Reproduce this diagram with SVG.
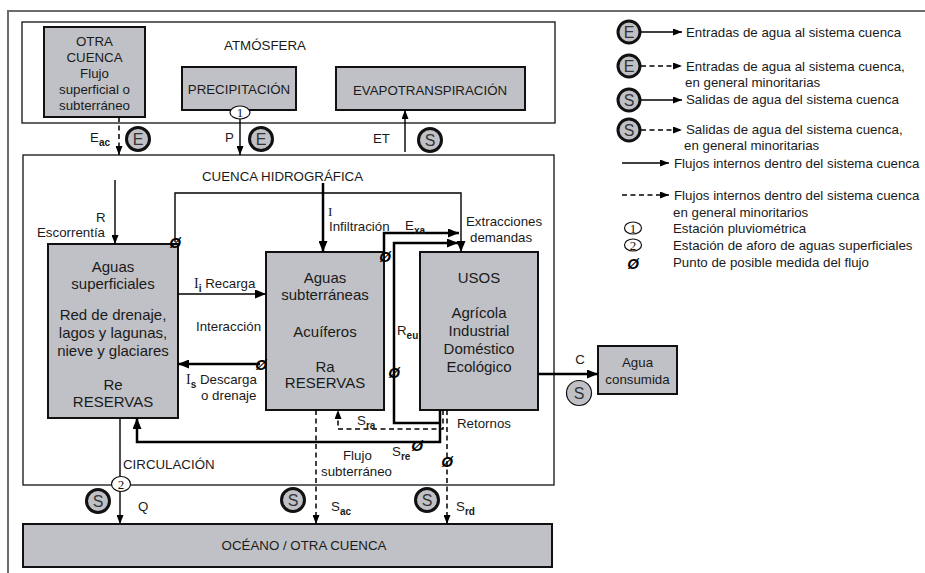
<svg xmlns="http://www.w3.org/2000/svg" width="925" height="573" viewBox="0 0 925 573">
<defs>
  <marker id="ah" markerUnits="userSpaceOnUse" viewBox="0 0 11 9" markerWidth="11" markerHeight="9" refX="11" refY="4.5" orient="auto">
    <path d="M0,0 L11,4.5 L0,9 z" fill="#000"/>
  </marker>
  <marker id="ahs" markerUnits="userSpaceOnUse" viewBox="0 0 9 7" markerWidth="9" markerHeight="7" refX="9" refY="3.5" orient="auto">
    <path d="M0,0 L9,3.5 L0,7 z" fill="#000"/>
  </marker>
</defs>
<style>
  text { font-family: "Liberation Sans", Arial, sans-serif; fill: #1a1a1a; font-size: 13.3px; }
  .box { fill: #c0c1c6; stroke: #111; stroke-width: 2; }
  .frame { fill: none; stroke: #111; stroke-width: 1.3; }
  .body { font-size: 15px; text-anchor: middle; }
  .mid { text-anchor: middle; }
  .sub { font-size: 10px; font-weight: bold; }
  .serif { font-family: "Liberation Serif", "Times New Roman", serif; }
  .ln { fill: none; stroke: #000; stroke-width: 1.4; }
  .thk { stroke-width: 2.5; }
  .dash { stroke-dasharray: 5 3.5; stroke-width: 1.5; }
  .tok circle { fill: #c0c1c6; stroke: #111; stroke-width: 3; }
  .tok text { font-size: 16px; text-anchor: middle; fill: #333; }
  .thin circle { stroke-width: 1.2; }
  .phi { font-size: 15px; font-weight: bold; font-style: italic; text-anchor: middle; fill: #000; }
  .stn ellipse { fill: #fff; stroke: #111; stroke-width: 1.2; }
  .stn text { font-family: "Liberation Serif", serif; font-size: 13px; text-anchor: middle; fill: #111; }
</style>

<!-- outer frame -->
<path d="M8,573 V11 H925" fill="none" stroke="#6b6b6b" stroke-width="2"/>

<!-- atmosphere container -->
<g id="atmosfera">
  <rect class="frame" x="22" y="22" width="533" height="101"/>
  <text class="mid" x="265" y="50">ATMÓSFERA</text>
</g>

<g id="otra-cuenca">
  <rect class="box" x="44" y="27" width="101" height="90"/>
  <text class="mid" x="94.5" y="46">OTRA</text>
  <text class="mid" x="94.5" y="62">CUENCA</text>
  <text class="mid" x="94.5" y="78">Flujo</text>
  <text class="mid" x="94.5" y="94">superficial o</text>
  <text class="mid" x="94.5" y="110">subterráneo</text>
</g>

<g id="precipitacion">
  <rect class="box" x="182" y="67" width="114" height="43"/>
  <text class="mid" x="239" y="94">PRECIPITACIÓN</text>
</g>

<g id="evapotranspiracion">
  <rect class="box" x="336" y="67" width="189" height="43"/>
  <text class="mid" x="430" y="95">EVAPOTRANSPIRACIÓN</text>
</g>

<!-- basin container -->
<g id="cuenca">
  <rect class="frame" x="23" y="155" width="531" height="330"/>
  <text x="202" y="181">CUENCA HIDROGRÁFICA</text>
</g>

<g id="aguas-superficiales">
  <rect class="box" x="48" y="244" width="130" height="174"/>
  <text class="body" x="113" y="272">Aguas</text>
  <text class="body" x="113" y="289">superficiales</text>
  <text class="body" x="113" y="320">Red de drenaje,</text>
  <text class="body" x="113" y="338">lagos y lagunas,</text>
  <text class="body" x="113" y="356">nieve y glaciares</text>
  <text class="body" x="113" y="390">Re</text>
  <text class="body" x="113" y="407">RESERVAS</text>
</g>

<g id="aguas-subterraneas">
  <rect class="box" x="266" y="252" width="118" height="158"/>
  <text class="body" x="325" y="283">Aguas</text>
  <text class="body" x="325" y="300">subterráneas</text>
  <text class="body" x="325" y="337">Acuíferos</text>
  <text class="body" x="325" y="372">Ra</text>
  <text class="body" x="325" y="388">RESERVAS</text>
</g>

<g id="usos">
  <rect class="box" x="420" y="252" width="118" height="158"/>
  <text class="body" x="479" y="283">USOS</text>
  <text class="body" x="479" y="318">Agrícola</text>
  <text class="body" x="479" y="336">Industrial</text>
  <text class="body" x="479" y="354">Doméstico</text>
  <text class="body" x="479" y="372">Ecológico</text>
</g>

<g id="agua-consumida">
  <rect class="box" x="598" y="346" width="79" height="48"/>
  <text class="mid" x="637.5" y="367">Agua</text>
  <text class="mid" x="637.5" y="384">consumida</text>
</g>

<g id="oceano">
  <rect class="box" x="23" y="524" width="529" height="43"/>
  <text class="mid" x="304" y="550">OCÉANO / OTRA CUENCA</text>
</g>

<!-- flows -->
<g id="connectors">
  <path class="ln dash" d="M119,117 V155" marker-end="url(#ahs)"/>
  <path class="ln" stroke-width="2" d="M240,118 V155" marker-end="url(#ahs)"/>
  <path class="ln" stroke-width="2" d="M405,152 V110" marker-end="url(#ahs)"/>
  <path class="ln" d="M115,180 V244" marker-end="url(#ahs)"/>
  <path class="ln" d="M175,242 V193 H461 V252" marker-end="url(#ah)"/>
  <path class="ln thk" d="M384,252 V233 H459" marker-end="url(#ah)"/>
  <path class="ln thk" d="M440,423 H394 V243 H458" marker-end="url(#ah)"/>
  <path class="ln thk" d="M440,410 V442 H137 V418" marker-end="url(#ah)"/>
  <path class="ln" stroke-width="1.6" d="M178,294 H266" marker-end="url(#ah)"/>
  <path class="ln thk" d="M260,364 H178" marker-end="url(#ah)"/>
  <path class="ln thk" d="M323,183 V252" marker-end="url(#ah)"/>
  <path class="ln thk" d="M538,374 H598" marker-end="url(#ah)"/>
  <path class="ln" d="M120,418 V524" marker-end="url(#ahs)"/>
  <path class="ln dash" d="M316,410 V524" marker-end="url(#ahs)"/>
  <path class="ln dash" d="M443,410 V429 H338 V410" marker-end="url(#ahs)"/>
  <path class="ln dash" d="M447,410 V524" marker-end="url(#ahs)"/>
</g>

<!-- gauging stations -->
<g id="estacion-1" class="stn">
  <ellipse cx="240" cy="112.5" rx="10" ry="6.5"/>
  <text x="240" y="117">1</text>
</g>
<g id="estacion-2" class="stn">
  <ellipse cx="121" cy="484" rx="9.5" ry="7.5"/>
  <text x="121" y="488.5">2</text>
</g>

<!-- inflow / outflow tokens -->
<g id="tokens">
  <g class="tok" transform="translate(138,139)"><circle r="11.5"/><text y="6">E</text></g>
  <g class="tok" transform="translate(261,139)"><circle r="11.5"/><text y="6">E</text></g>
  <g class="tok" transform="translate(430,140)"><circle r="11.5"/><text y="6">S</text></g>
  <g class="tok" transform="translate(98,501)"><circle r="11.5"/><text y="6">S</text></g>
  <g class="tok" transform="translate(293,500)"><circle r="11.5"/><text y="6">S</text></g>
  <g class="tok" transform="translate(427,500)"><circle r="11.5"/><text y="6">S</text></g>
  <g class="tok thin" transform="translate(579,393)"><circle r="12.5"/><text y="6">S</text></g>
</g>

<!-- measurement points -->
<g id="medidas">
  <text class="phi" x="175" y="247.5">Ø</text>
  <text class="phi" x="261" y="369.5">Ø</text>
  <text class="phi" x="385" y="261.5">Ø</text>
  <text class="phi" x="394" y="377.5">Ø</text>
  <text class="phi" x="417" y="450.5">Ø</text>
  <text class="phi" x="447" y="466.5">Ø</text>
</g>

<!-- flow labels -->
<g id="etiquetas">
  <text x="90" y="142">E<tspan class="sub" dy="4">ac</tspan></text>
  <text x="225" y="142">P</text>
  <text x="373" y="143">ET</text>
  <text x="96" y="222">R</text>
  <text x="37" y="237">Escorrentía</text>
  <text class="serif" x="328" y="216" font-size="14">I</text>
  <text x="329" y="231">Infiltración</text>
  <text x="405" y="230">E<tspan class="sub" dy="4">xa</tspan></text>
  <text x="466" y="226">Extracciones</text>
  <text x="470" y="242">demandas</text>
  <text x="194" y="288"><tspan class="serif" font-size="14">I</tspan><tspan class="sub" dy="4">i</tspan><tspan dy="-4"> Recarga</tspan></text>
  <text x="196" y="331">Interacción</text>
  <text x="186" y="384"><tspan class="serif" font-size="14">I</tspan><tspan class="sub" dy="4">s</tspan><tspan dy="-4"> Descarga</tspan></text>
  <text x="201" y="400">o drenaje</text>
  <text x="397" y="335">R<tspan class="sub" dy="4">eu</tspan></text>
  <text x="357" y="425">S<tspan class="sub" dy="4">ra</tspan></text>
  <text x="392" y="456">S<tspan class="sub" dy="4">re</tspan></text>
  <text x="457" y="428">Retornos</text>
  <text x="343" y="460">Flujo</text>
  <text x="321" y="476">subterráneo</text>
  <text x="123" y="469">CIRCULACIÓN</text>
  <text x="138" y="511">Q</text>
  <text x="331" y="511">S<tspan class="sub" dy="4">ac</tspan></text>
  <text x="456" y="511">S<tspan class="sub" dy="4">rd</tspan></text>
  <text class="mid" x="580" y="364">C</text>
</g>

<!-- legend -->
<g id="leyenda">
  <g class="tok" transform="translate(629,32)"><circle r="11"/><text y="6">E</text></g>
  <path class="ln" d="M641,32 H682" marker-end="url(#ahs)"/>
  <text x="686" y="37">Entradas de agua al sistema cuenca</text>

  <g class="tok" transform="translate(629,66)"><circle r="11"/><text y="6">E</text></g>
  <path class="ln dash" d="M641,66 H682" marker-end="url(#ahs)"/>
  <text x="686" y="71">Entradas de agua al sistema cuenca,</text>
  <text x="685" y="87">en general minoritarias</text>

  <g class="tok" transform="translate(629,100)"><circle r="11"/><text y="6">S</text></g>
  <path class="ln" d="M641,100 H682" marker-end="url(#ahs)"/>
  <text x="686" y="104">Salidas de agua del sistema cuenca</text>

  <g class="tok" transform="translate(629,130)"><circle r="11"/><text y="6">S</text></g>
  <path class="ln dash" d="M641,130 H682" marker-end="url(#ahs)"/>
  <text x="686" y="134">Salidas de agua del sistema cuenca,</text>
  <text x="684" y="150">en general minoritarias</text>

  <path class="ln" d="M622,163 H669" marker-end="url(#ahs)"/>
  <text x="674" y="168">Flujos internos dentro del sistema cuenca</text>

  <path class="ln dash" d="M622,195 H669" marker-end="url(#ahs)"/>
  <text x="674" y="200">Flujos internos dentro del sistema cuenca</text>
  <text x="673" y="217">en general minoritarios</text>

  <g class="stn"><ellipse cx="633" cy="228" rx="8.5" ry="6"/><text x="633" y="232.5">1</text></g>
  <text x="673" y="233">Estación pluviométrica</text>

  <g class="stn"><ellipse cx="633" cy="245" rx="8.5" ry="6"/><text x="633" y="249.5">2</text></g>
  <text x="673" y="250">Estación de aforo de aguas superficiales</text>

  <text class="phi" x="633" y="268.5">Ø</text>
  <text x="673" y="267">Punto de posible medida del flujo</text>
</g>
</svg>
